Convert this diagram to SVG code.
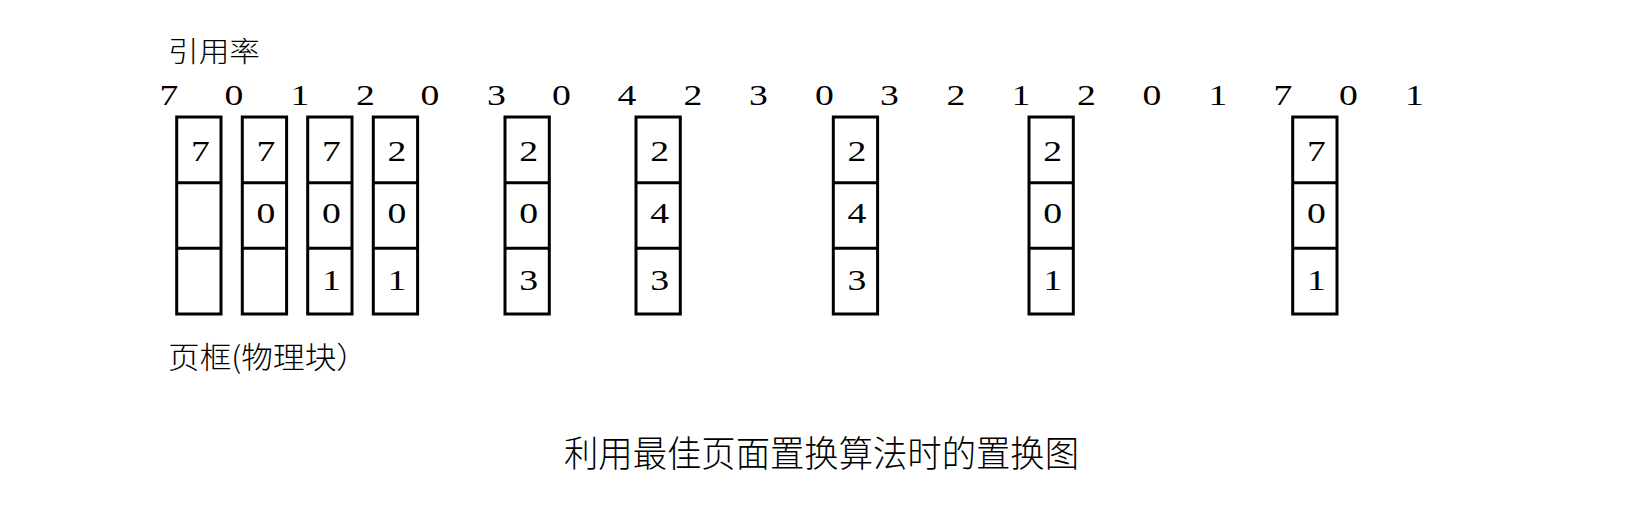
<svg xmlns="http://www.w3.org/2000/svg" width="1627" height="511" viewBox="0 0 1627 511">
<style>
.bg{fill:#fff}
.box{fill:none;stroke:#000;stroke-width:3}
.div{stroke:#000;stroke-width:3}
.d{font-family:"Liberation Serif","Times New Roman",serif;font-size:29px;fill:#000;text-anchor:middle}
.cj{font-family:"Noto Sans CJK SC","Noto Sans CJK JP",sans-serif;font-weight:300;fill:#000}
</style>
<rect class="bg" x="0" y="0" width="1627" height="511"/>
<g id="label-ref">
<text class="cj" x="168" y="62" font-size="28" textLength="92" lengthAdjust="spacingAndGlyphs">引用率</text>
</g>
<g id="reference-string">
<text class="d" transform="translate(169 105) scale(1.3 1)">7</text>
<text class="d" transform="translate(234 105) scale(1.3 1)">0</text>
<text class="d" transform="translate(300 105) scale(1.3 1)">1</text>
<text class="d" transform="translate(365.5 105) scale(1.3 1)">2</text>
<text class="d" transform="translate(430 105) scale(1.3 1)">0</text>
<text class="d" transform="translate(496.5 105) scale(1.3 1)">3</text>
<text class="d" transform="translate(561.5 105) scale(1.3 1)">0</text>
<text class="d" transform="translate(627 105) scale(1.3 1)">4</text>
<text class="d" transform="translate(693 105) scale(1.3 1)">2</text>
<text class="d" transform="translate(758.5 105) scale(1.3 1)">3</text>
<text class="d" transform="translate(824.5 105) scale(1.3 1)">0</text>
<text class="d" transform="translate(889.5 105) scale(1.3 1)">3</text>
<text class="d" transform="translate(956 105) scale(1.3 1)">2</text>
<text class="d" transform="translate(1021 105) scale(1.3 1)">1</text>
<text class="d" transform="translate(1086.5 105) scale(1.3 1)">2</text>
<text class="d" transform="translate(1152 105) scale(1.3 1)">0</text>
<text class="d" transform="translate(1218 105) scale(1.3 1)">1</text>
<text class="d" transform="translate(1283 105) scale(1.3 1)">7</text>
<text class="d" transform="translate(1348.5 105) scale(1.3 1)">0</text>
<text class="d" transform="translate(1414.5 105) scale(1.3 1)">1</text>
</g>
<g id="frame-1">
<rect class="box" x="176.7" y="117" width="44.3" height="197"/>
<line class="div" x1="176.7" y1="182.7" x2="221" y2="182.7"/>
<line class="div" x1="176.7" y1="248.3" x2="221" y2="248.3"/>
<text class="d" transform="translate(200.5 161) scale(1.3 1)">7</text>
</g>
<g id="frame-2">
<rect class="box" x="242.3" y="117" width="44.3" height="197"/>
<line class="div" x1="242.3" y1="182.7" x2="286.6" y2="182.7"/>
<line class="div" x1="242.3" y1="248.3" x2="286.6" y2="248.3"/>
<text class="d" transform="translate(266 161) scale(1.3 1)">7</text>
<text class="d" transform="translate(266 223) scale(1.3 1)">0</text>
</g>
<g id="frame-3">
<rect class="box" x="307.7" y="117" width="44.3" height="197"/>
<line class="div" x1="307.7" y1="182.7" x2="352" y2="182.7"/>
<line class="div" x1="307.7" y1="248.3" x2="352" y2="248.3"/>
<text class="d" transform="translate(331.5 161) scale(1.3 1)">7</text>
<text class="d" transform="translate(331.5 223) scale(1.3 1)">0</text>
<text class="d" transform="translate(331.5 289.5) scale(1.3 1)">1</text>
</g>
<g id="frame-4">
<rect class="box" x="373.3" y="117" width="44.3" height="197"/>
<line class="div" x1="373.3" y1="182.7" x2="417.6" y2="182.7"/>
<line class="div" x1="373.3" y1="248.3" x2="417.6" y2="248.3"/>
<text class="d" transform="translate(397 161) scale(1.3 1)">2</text>
<text class="d" transform="translate(397 223) scale(1.3 1)">0</text>
<text class="d" transform="translate(397 289.5) scale(1.3 1)">1</text>
</g>
<g id="frame-5">
<rect class="box" x="505" y="117" width="44.3" height="197"/>
<line class="div" x1="505" y1="182.7" x2="549.3" y2="182.7"/>
<line class="div" x1="505" y1="248.3" x2="549.3" y2="248.3"/>
<text class="d" transform="translate(528.7 161) scale(1.3 1)">2</text>
<text class="d" transform="translate(528.7 223) scale(1.3 1)">0</text>
<text class="d" transform="translate(528.7 289.5) scale(1.3 1)">3</text>
</g>
<g id="frame-6">
<rect class="box" x="636" y="117" width="44.3" height="197"/>
<line class="div" x1="636" y1="182.7" x2="680.3" y2="182.7"/>
<line class="div" x1="636" y1="248.3" x2="680.3" y2="248.3"/>
<text class="d" transform="translate(659.7 161) scale(1.3 1)">2</text>
<text class="d" transform="translate(659.7 223) scale(1.3 1)">4</text>
<text class="d" transform="translate(659.7 289.5) scale(1.3 1)">3</text>
</g>
<g id="frame-7">
<rect class="box" x="833.3" y="117" width="44.3" height="197"/>
<line class="div" x1="833.3" y1="182.7" x2="877.6" y2="182.7"/>
<line class="div" x1="833.3" y1="248.3" x2="877.6" y2="248.3"/>
<text class="d" transform="translate(857 161) scale(1.3 1)">2</text>
<text class="d" transform="translate(857 223) scale(1.3 1)">4</text>
<text class="d" transform="translate(857 289.5) scale(1.3 1)">3</text>
</g>
<g id="frame-8">
<rect class="box" x="1029" y="117" width="44.3" height="197"/>
<line class="div" x1="1029" y1="182.7" x2="1073.3" y2="182.7"/>
<line class="div" x1="1029" y1="248.3" x2="1073.3" y2="248.3"/>
<text class="d" transform="translate(1052.7 161) scale(1.3 1)">2</text>
<text class="d" transform="translate(1052.7 223) scale(1.3 1)">0</text>
<text class="d" transform="translate(1052.7 289.5) scale(1.3 1)">1</text>
</g>
<g id="frame-9">
<rect class="box" x="1292.7" y="117" width="44.3" height="197"/>
<line class="div" x1="1292.7" y1="182.7" x2="1337" y2="182.7"/>
<line class="div" x1="1292.7" y1="248.3" x2="1337" y2="248.3"/>
<text class="d" transform="translate(1316.4 161) scale(1.3 1)">7</text>
<text class="d" transform="translate(1316.4 223) scale(1.3 1)">0</text>
<text class="d" transform="translate(1316.4 289.5) scale(1.3 1)">1</text>
</g>
<g id="label-frame">
<text class="cj" x="168" y="368" font-size="30" textLength="200" lengthAdjust="spacingAndGlyphs">页框(物理块）</text>
</g>
<g id="title">
<text class="cj" x="564" y="467" font-size="36" textLength="515" lengthAdjust="spacingAndGlyphs">利用最佳页面置换算法时的置换图</text>
</g>
</svg>
